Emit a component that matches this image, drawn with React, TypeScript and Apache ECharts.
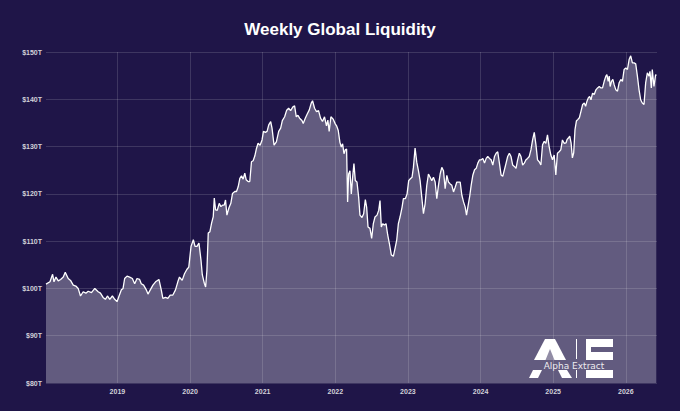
import React, { useEffect, useRef } from "react";
import * as echarts from "echarts";

// Decimal-year positions of the sampled weekly readings
const dates: number[] = [
  2018.017, 2018.072, 2018.108, 2018.127, 2018.154, 2018.186, 2018.218, 2018.255, 2018.282, 2018.323,
  2018.355, 2018.392, 2018.428, 2018.46, 2018.492, 2018.529, 2018.566, 2018.598, 2018.643, 2018.689,
  2018.735, 2018.767, 2018.803, 2018.835, 2018.863, 2018.895, 2018.931, 2018.963, 2018.995, 2019.023,
  2019.055, 2019.078, 2019.1, 2019.133, 2019.169, 2019.206, 2019.238, 2019.27, 2019.306, 2019.329,
  2019.361, 2019.398, 2019.421, 2019.453, 2019.489, 2019.526, 2019.572, 2019.604, 2019.626, 2019.663,
  2019.695, 2019.727, 2019.764, 2019.8, 2019.832, 2019.855, 2019.892, 2019.924, 2019.956, 2019.983,
  2020.014, 2020.046, 2020.069, 2020.096, 2020.123, 2020.151, 2020.169, 2020.197, 2020.215, 2020.233,
  2020.251, 2020.274, 2020.297, 2020.32, 2020.334, 2020.352, 2020.375, 2020.402, 2020.425, 2020.448,
  2020.471, 2020.489, 2020.508, 2020.535, 2020.562, 2020.585, 2020.617, 2020.64, 2020.663, 2020.686,
  2020.709, 2020.732, 2020.754, 2020.773, 2020.8, 2020.823, 2020.846, 2020.869, 2020.892, 2020.915,
  2020.937, 2020.965, 2020.992, 2021.011, 2021.038, 2021.061, 2021.084, 2021.111, 2021.129, 2021.157,
  2021.189, 2021.221, 2021.248, 2021.271, 2021.303, 2021.331, 2021.358, 2021.385, 2021.417, 2021.44,
  2021.463, 2021.486, 2021.509, 2021.541, 2021.559, 2021.587, 2021.614, 2021.641, 2021.669, 2021.687,
  2021.715, 2021.742, 2021.77, 2021.797, 2021.824, 2021.852, 2021.879, 2021.898, 2021.916, 2021.94,
  2021.972, 2022.0, 2022.018, 2022.041, 2022.064, 2022.083, 2022.101, 2022.12, 2022.138, 2022.156,
  2022.17, 2022.184, 2022.202, 2022.221, 2022.239, 2022.257, 2022.276, 2022.299, 2022.322, 2022.34,
  2022.368, 2022.391, 2022.414, 2022.432, 2022.451, 2022.478, 2022.501, 2022.524, 2022.547, 2022.575,
  2022.598, 2022.616, 2022.634, 2022.653, 2022.676, 2022.699, 2022.722, 2022.745, 2022.772, 2022.8,
  2022.818, 2022.846, 2022.869, 2022.892, 2022.92, 2022.938, 2022.966, 2022.989, 2023.011, 2023.034,
  2023.057, 2023.076, 2023.099, 2023.122, 2023.145, 2023.168, 2023.191, 2023.214, 2023.237, 2023.26,
  2023.283, 2023.306, 2023.329, 2023.352, 2023.375, 2023.398, 2023.421, 2023.444, 2023.467, 2023.49,
  2023.513, 2023.536, 2023.559, 2023.582, 2023.605, 2023.628, 2023.651, 2023.674, 2023.697, 2023.72,
  2023.743, 2023.766, 2023.789, 2023.807, 2023.83, 2023.853, 2023.872, 2023.895, 2023.918, 2023.941,
  2023.963, 2023.986, 2024.009, 2024.032, 2024.055, 2024.078, 2024.1, 2024.123, 2024.146, 2024.169,
  2024.192, 2024.215, 2024.237, 2024.26, 2024.283, 2024.306, 2024.329, 2024.352, 2024.374, 2024.397,
  2024.42, 2024.443, 2024.466, 2024.489, 2024.511, 2024.534, 2024.557, 2024.58, 2024.603, 2024.626,
  2024.648, 2024.671, 2024.694, 2024.717, 2024.74, 2024.763, 2024.785, 2024.808, 2024.831, 2024.854,
  2024.877, 2024.9, 2024.922, 2024.945, 2024.968, 2024.991, 2025.014, 2025.037, 2025.059, 2025.082,
  2025.105, 2025.128, 2025.151, 2025.178, 2025.192, 2025.21, 2025.228, 2025.247, 2025.265, 2025.283,
  2025.301, 2025.32, 2025.338, 2025.361, 2025.384, 2025.406, 2025.429, 2025.447, 2025.466, 2025.484,
  2025.502, 2025.521, 2025.543, 2025.566, 2025.589, 2025.612, 2025.635, 2025.658, 2025.68, 2025.703,
  2025.726, 2025.74, 2025.758, 2025.772, 2025.785, 2025.804, 2025.822, 2025.84, 2025.863, 2025.886,
  2025.909, 2025.932, 2025.954, 2025.977, 2026.0, 2026.023, 2026.046, 2026.068, 2026.091, 2026.114,
  2026.137, 2026.16, 2026.183, 2026.205, 2026.228, 2026.251, 2026.274, 2026.297, 2026.32, 2026.333,
  2026.352, 2026.365, 2026.388, 2026.411, 2026.42,
];

// Global liquidity, trillions of USD
const liquidity: number[] = [
  100.9, 101.4, 103.0, 101.4, 102.4, 101.6, 101.9, 102.4, 103.4, 102.1,
  101.7, 100.7, 100.5, 100.0, 98.4, 99.3, 99.0, 99.4, 99.1, 100.0,
  99.3, 99.0, 98.1, 97.7, 98.4, 97.7, 98.4, 97.7, 97.2, 98.4,
  99.7, 100.0, 102.1, 102.6, 102.4, 102.1, 101.0, 102.1, 101.9, 101.0,
  100.7, 99.7, 98.8, 99.7, 100.7, 101.4, 101.9, 99.7, 97.9, 98.1,
  97.9, 98.6, 98.6, 99.7, 101.4, 102.4, 101.7, 103.1, 104.0, 104.5,
  108.9, 110.3, 108.9, 108.9, 109.6, 106.0, 102.9, 101.1, 100.3, 103.9,
  111.7, 112.0, 113.8, 115.2, 119.1, 116.6, 116.5, 118.0, 117.3, 117.6,
  117.6, 118.7, 115.5, 117.0, 118.0, 120.1, 120.5, 120.5, 121.5, 123.3,
  123.8, 123.1, 124.4, 123.0, 122.6, 122.6, 126.8, 127.0, 128.0, 129.6,
  130.7, 130.3, 131.4, 133.2, 133.0, 133.2, 134.6, 135.3, 133.9, 130.3,
  131.0, 133.2, 133.9, 135.5, 136.3, 137.7, 138.1, 137.6, 138.4, 138.6,
  136.3, 136.6, 136.0, 135.5, 134.9, 136.0, 136.9, 137.7, 139.2, 139.7,
  138.1, 137.4, 137.6, 136.0, 135.3, 136.3, 134.4, 135.6, 133.2, 136.3,
  135.8, 134.8, 134.4, 133.4, 130.9, 129.9, 130.6, 128.5, 129.3, 129.5,
  118.3, 124.2, 124.9, 120.0, 123.5, 126.4, 122.8, 122.5, 119.3, 115.5,
  115.0, 115.8, 118.8, 117.2, 113.0, 112.7, 110.6, 113.7, 115.1, 115.5,
  116.5, 118.6, 113.0, 113.7, 113.4, 113.7, 111.3, 109.5, 107.1, 106.8,
  108.1, 110.2, 113.7, 115.1, 117.2, 119.0, 119.0, 120.0, 122.8, 123.2,
  123.5, 125.6, 129.7, 126.7, 124.9, 122.8, 119.3, 115.8, 117.9, 121.8,
  124.2, 123.5, 122.8, 123.5, 122.5, 119.0, 121.8, 124.2, 125.6, 124.9,
  121.1, 123.9, 122.5, 122.1, 121.8, 120.4, 121.4, 122.5, 122.5, 122.5,
  119.7, 118.3, 117.2, 115.5, 117.6, 119.7, 121.9, 124.0, 125.1, 125.4,
  126.5, 127.2, 127.2, 127.5, 126.5, 127.5, 127.9, 127.5, 127.2, 126.1,
  127.9, 128.6, 128.9, 126.5, 124.0, 123.7, 125.1, 126.5, 127.9, 128.6,
  127.9, 126.1, 125.8, 125.4, 127.2, 128.6, 127.9, 126.1, 126.5, 127.2,
  127.5, 127.9, 129.3, 131.4, 133.0, 130.4, 127.2, 126.8, 126.1, 130.4,
  131.1, 130.7, 132.5, 130.0, 128.2, 127.2, 128.2, 124.0, 128.6, 128.9,
  129.3, 131.4, 130.7, 130.8, 131.5, 131.8, 132.2, 130.8, 127.6, 128.7,
  133.6, 135.4, 135.7, 136.1, 137.5, 138.9, 139.2, 138.5, 139.6, 140.3,
  140.6, 139.9, 141.3, 141.0, 142.0, 142.4, 142.7, 142.4, 142.4, 143.8,
  144.9, 145.2, 143.8, 144.9, 142.7, 143.8, 144.2, 143.1, 142.0, 141.7,
  143.5, 144.2, 143.8, 146.3, 146.6, 146.3, 148.4, 149.2, 147.7, 147.7,
  147.5, 144.9, 142.0, 139.9, 139.2, 138.9, 143.5, 145.6, 144.9, 145.9,
  142.4, 146.3, 142.7, 145.2, 145.0,
];

const yTicks: number[] = [80, 90, 100, 110, 120, 130, 140, 150];
const yearTicks: number[] = [2019, 2020, 2021, 2022, 2023, 2024, 2025, 2026];

const BG = "#1f1548";
const AREA_ON_BG = "#625b7f";
const LABEL = "#d2d1d9";

export default function App() {
  const ref = useRef<HTMLDivElement>(null);

  useEffect(() => {
    if (!ref.current) return;
    const chart = echarts.init(ref.current, undefined, { renderer: "svg" });
    const seriesData = dates.map((d, i) => [d, liquidity[i]]);

    chart.setOption({
      animation: false,
      backgroundColor: BG,
      title: {
        text: "Weekly Global Liquidity",
        left: "center",
        top: 16,
        textStyle: {
          color: "#ffffff",
          fontSize: 17,
          fontWeight: "bold",
          fontFamily: "Liberation Sans, Arial, sans-serif",
        },
      },
      grid: { left: 46, right: 23, top: 52, bottom: 28, containLabel: false },
      xAxis: {
        type: "value",
        min: 2018.017,
        max: 2026.43,
        minInterval: 1,
        maxInterval: 1,
        axisLine: { show: false },
        axisTick: { show: false },
        axisLabel: {
          color: LABEL,
          fontSize: 7,
          fontWeight: "bold",
          fontFamily: "Liberation Sans, Arial, sans-serif",
          margin: 5,
          formatter: (v: number) =>
            yearTicks.indexOf(Math.round(v)) >= 0 && Math.abs(v - Math.round(v)) < 1e-6
              ? String(Math.round(v))
              : "",
        },
        splitLine: {
          show: true,
          showMinLine: false,
          showMaxLine: false,
          lineStyle: { color: "rgba(255,255,255,0.14)", width: 1 },
        },
      },
      yAxis: {
        type: "value",
        min: yTicks[0],
        max: yTicks[yTicks.length - 1],
        interval: 10,
        axisLine: { show: false },
        axisTick: { show: false },
        axisLabel: {
          color: LABEL,
          fontSize: 7,
          fontWeight: "bold",
          fontFamily: "Liberation Sans, Arial, sans-serif",
          margin: 4,
          formatter: (v: number) => "$" + v + "T",
        },
        splitLine: {
          show: true,
          lineStyle: { color: "rgba(255,255,255,0.14)", width: 1 },
        },
      },
      series: [
        {
          type: "line",
          data: seriesData,
          showSymbol: false,
          symbol: "none",
          lineStyle: { color: "#ffffff", width: 1.3 },
          areaStyle: { color: "#ffffff", opacity: 0.3, origin: "start" },
          z: 3,
        },
      ],
      graphic: [
        {
          type: "group",
          z: 100,
          children: [
            // A upper part
            {
              type: "polygon",
              shape: { points: [[545, 339], [555, 339], [566, 360], [534, 360]] },
              style: { fill: "#ffffff" },
            },
            {
              type: "polygon",
              shape: { points: [[550, 349], [554.5, 360], [545.5, 360]] },
              style: { fill: AREA_ON_BG },
            },
            // A legs
            {
              type: "polygon",
              shape: { points: [[533, 370], [542, 370], [538, 378], [529, 378]] },
              style: { fill: "#ffffff" },
            },
            {
              type: "polygon",
              shape: { points: [[558, 370], [567, 370], [572, 378], [562, 378]] },
              style: { fill: "#ffffff" },
            },
            // separator
            {
              type: "line",
              shape: { x1: 576.5, y1: 339, x2: 576.5, y2: 359 },
              style: { stroke: "#ffffff", lineWidth: 1 },
            },
            {
              type: "line",
              shape: { x1: 576.5, y1: 370, x2: 576.5, y2: 378 },
              style: { stroke: "#ffffff", lineWidth: 1 },
            },
            // E
            { type: "rect", shape: { x: 586, y: 339, width: 27, height: 8 }, style: { fill: "#ffffff" } },
            { type: "rect", shape: { x: 586, y: 339, width: 5, height: 21 }, style: { fill: "#ffffff" } },
            { type: "rect", shape: { x: 586, y: 352, width: 27, height: 8 }, style: { fill: "#ffffff" } },
            { type: "rect", shape: { x: 586, y: 370, width: 27, height: 8 }, style: { fill: "#ffffff" } },
            {
              type: "text",
              x: 574,
              y: 365.5,
              style: {
                text: "Alpha Extract",
                fill: "rgba(255,255,255,0.9)",
                fontSize: 9,
                fontFamily: "DejaVu Sans, sans-serif",
                align: "center",
                verticalAlign: "middle",
              },
            },
          ],
        },
      ],
    });

    return () => chart.dispose();
  }, []);

  return (
    <div
      ref={ref}
      style={{ position: "fixed", left: 0, top: 0, width: 680, height: 411 }}
    />
  );
}
